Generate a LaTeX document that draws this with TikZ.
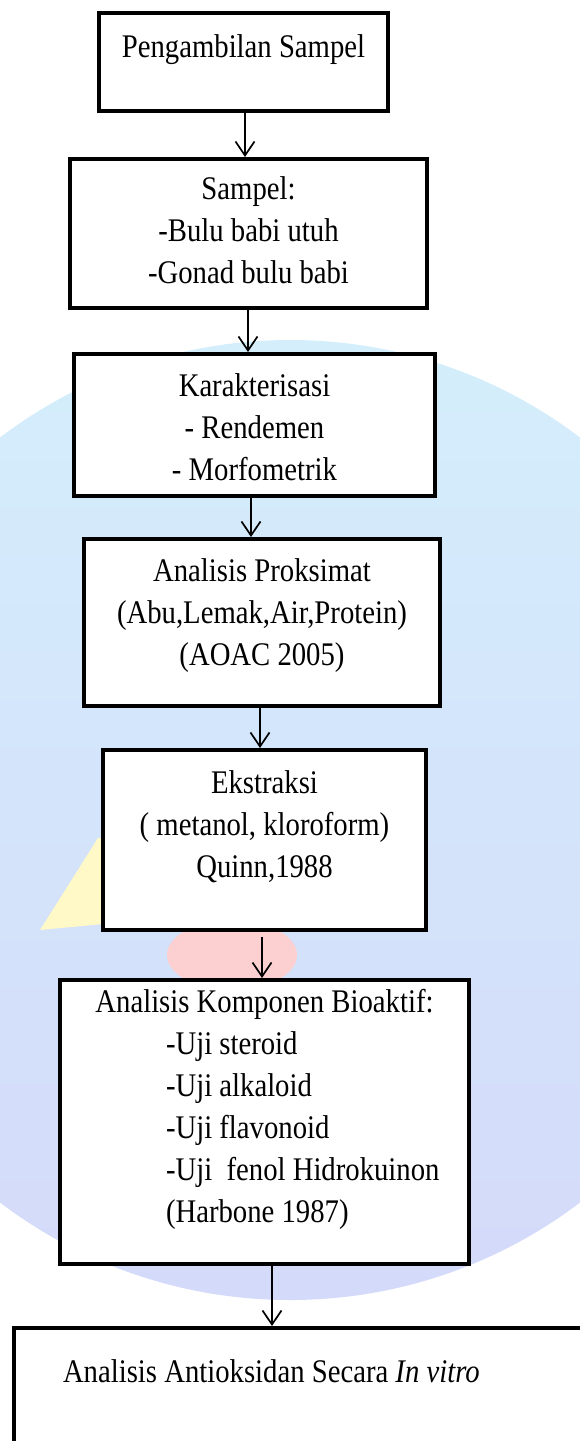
\documentclass[tikz,border=0pt]{standalone}
\usepackage{fontspec}
\setmainfont{Liberation Serif}[FakeStretch=0.87]
\usetikzlibrary{arrows.meta,shadings}

\definecolor{logoblue}{RGB}{212,238,251}
\definecolor{logolilac}{RGB}{212,218,250}
\definecolor{logoyellow}{RGB}{255,249,200}
\definecolor{logopink}{RGB}{252,208,208}

\tikzset{
  stage/.style={
    draw,
    line width=4pt,
    fill=white,
    inner sep=0pt,
    align=center,
    anchor=base,
    font=\fontsize{33pt}{42pt}\selectfont
  },
  flow/.style={
    line width=1.7pt,
    -{Straight Barb[length=14pt,width=19pt,line width=1.7pt]}
  }
}
% lines of the bioactive test list, left aligned under the heading
\newcommand{\ujiline}[1]{\makebox[197pt][l]{#1}}

\begin{document}
\begin{tikzpicture}[x=1pt,y=-1pt]
    \useasboundingbox (0,0) rectangle (579,1441);
    % faded logo behind the chart
    \shade[top color=logoblue, bottom color=logolilac] (290,820) circle (480);
    \fill[logoyellow] (40,930) -- (98,838) -- (103,838) -- (103,924) -- cycle;
    \fill[logopink] (232,955) ellipse (65 and 35);

    % base = last line of each box
    \node[stage, minimum width=289pt, text height=44pt, text depth=54pt] (ambil) at (243.5,57)
        {Pengambilan Sampel};
    \node[stage, minimum width=357pt, text height=124pt, text depth=25pt] (sampel) at (248.5,283)
        {Sampel:\\-Bulu babi utuh\\-Gonad bulu babi};
    \node[stage, minimum width=361pt, text height=126pt, text depth=16pt] (karakter) at (254.5,480)
        {Karakterisasi\\- Rendemen\\- Morfometrik};
    \node[stage, minimum width=356pt, text height=126pt, text depth=41pt] (proksimat) at (262,665)
        {Analisis Proksimat\\(Abu,Lemak,Air,Protein)\\(AOAC 2005)};
    \node[stage, minimum width=323pt, text height=127pt, text depth=53pt] (ekstraksi) at (264.5,877)
        {Ekstraksi\\( metanol, kloroform)\\Quinn,1988};
    \node[stage, minimum width=409pt, text height=242pt, text depth=42pt] (bioaktif) at (264.5,1222)
        {Analisis Komponen Bioaktif:\\
         \ujiline{-Uji steroid}\\
         \ujiline{-Uji alkaloid}\\
         \ujiline{-Uji flavonoid}\\
         \ujiline{-Uji~ fenol Hidrokuinon}\\
         \ujiline{(Harbone 1987)}};
    \node[stage, inner xsep=49pt, text height=54pt, text depth=200pt, anchor=base west] (antioksidan) at (12,1382)
        {\makebox[530pt][l]{Analisis Antioksidan Secara \textit{In vitro}}};

    \draw[flow] ([xshift=1.5pt]ambil.south) -- ([xshift=1.5pt]ambil.south |- sampel.north);
    \draw[flow] ([xshift=-0.5pt]sampel.south) -- ([xshift=-0.5pt]sampel.south |- karakter.north);
    \draw[flow] ([xshift=-3.5pt]karakter.south) -- ([xshift=-3.5pt]karakter.south |- proksimat.north);
    \draw[flow] ([xshift=-2pt]proksimat.south) -- ([xshift=-2pt]proksimat.south |- ekstraksi.north);
    \draw[flow, shorten <=5pt] ([xshift=-2.5pt]ekstraksi.south) -- ([xshift=-2.5pt]ekstraksi.south |- bioaktif.north);
    \draw[flow] ([xshift=7.5pt]bioaktif.south) -- ([xshift=7.5pt]bioaktif.south |- antioksidan.north);
\end{tikzpicture}
\end{document}
